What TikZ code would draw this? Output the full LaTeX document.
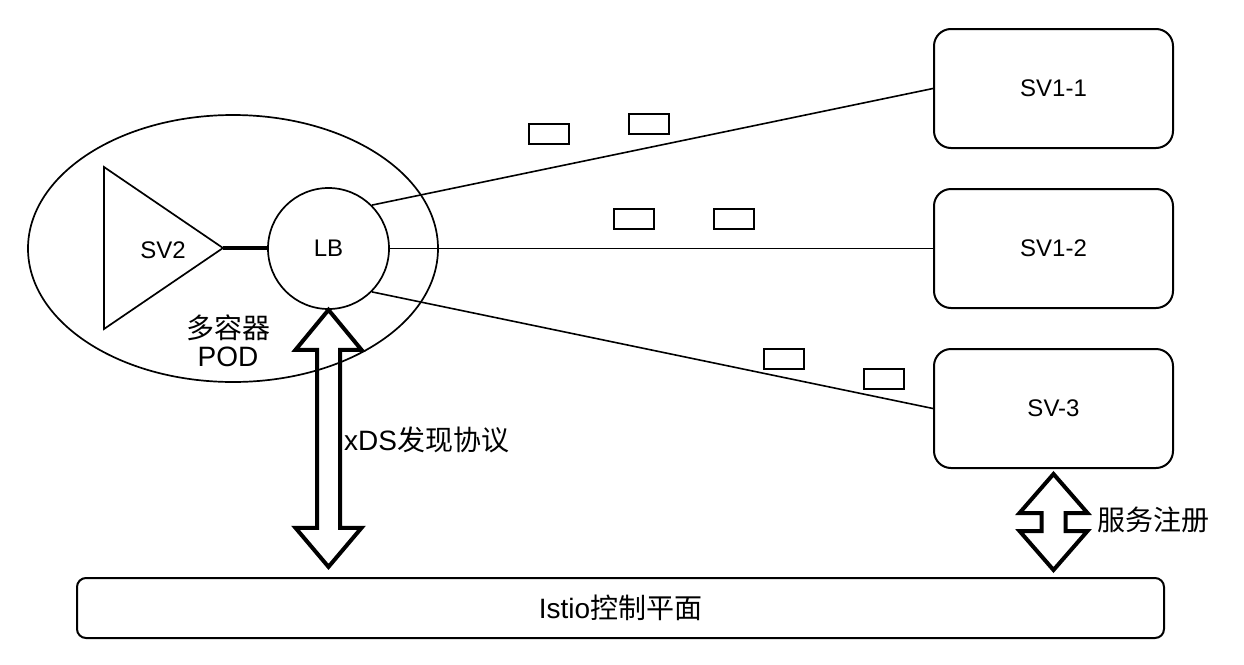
\documentclass[tikz,border=0pt]{standalone}
\usepackage{fontspec}
\setmainfont{Liberation Sans}
\newfontfamily\cjk{Noto Sans CJK SC}
\usetikzlibrary{shapes.geometric,calc}
\begin{document}
\begin{tikzpicture}[x=1pt,y=-1pt,
  svbox/.style={draw, line width=2pt, rounded corners=17pt, minimum width=239pt, minimum height=119pt, inner sep=0pt, font=\fontsize{24}{28}\selectfont},
  istiobox/.style={draw, line width=2pt, rounded corners=9pt, minimum width=1087pt, minimum height=60pt, inner sep=0pt, font=\fontsize{28}{32}\selectfont},
  shapeline/.style={draw, line width=1.7pt},
  conn/.style={draw, line width=1.6pt},
  thickconn/.style={draw, line width=3.5pt},
  msgbox/.style={draw, line width=2.4pt, minimum width=40pt, minimum height=20pt, inner sep=0pt},
  bigarrow/.style={draw, line width=4pt, line join=miter},
  lbl/.style={inner sep=0pt, font=\fontsize{28}{28}\selectfont},
  innerlbl/.style={inner sep=0pt, font=\fontsize{24}{28}\selectfont}
]
\useasboundingbox (0,0) rectangle (1244,664);
\fill[white] (0,0) rectangle (1244,664);

% POD ellipse
\node[ellipse, shapeline, minimum width=410pt, minimum height=267pt, inner sep=0pt] (pod) at (233,248.5) {};

% SV2 triangle
\draw[shapeline] (104,167) -- (223,248) -- (104,329) -- cycle;
\coordinate (sv2tip) at (223,248);
\node[innerlbl] (sv2) at (163,250) {SV2};

% LB circle
\node[circle, shapeline, minimum size=121pt, inner sep=0pt, font=\fontsize{24}{28}\selectfont] (lb) at (328.5,248.5) {LB};

\draw[thickconn] (sv2tip) -- (sv2tip -| lb.west);

% Service boxes
\node[svbox] (sv11) at (1053.5,88.5) {SV1-1};
\node[svbox] (sv12) at (1053.5,248.5) {SV1-2};
\node[svbox] (sv3) at (1053.5,408.5) {SV-3};

% Connectors
\draw[conn] (lb.45) -- (sv11.west);
\draw[conn] (lb.0) -- (sv12.west);
\draw[conn] (lb.-45) -- (sv3.west);

% Messages
\node[msgbox] (m1) at (549,134) {};
\node[msgbox] (m2) at (649,124) {};
\node[msgbox] (m3) at (634,219) {};
\node[msgbox] (m4) at (734,219) {};
\node[msgbox] (m5) at (784,359) {};
\node[msgbox] (m6) at (884,379) {};

% Pod label
\node[lbl, align=center] (podlbl) at (228,341) {{\cjk 多容器}\\[0pt]POD};

% Istio control plane
\node[istiobox] (istio) at (620.5,608) {Istio{\cjk 控制平面}};

% xDS double arrow
\draw[bigarrow] (lb.south) -- ++(33,40) -- ++(-21.5,0) -- ++(0,178) -- ++(21.5,0)
  -- ++(-33,39) -- ++(-33,-39) -- ++(21.5,0) -- ++(0,-178) -- ++(-21.5,0) -- cycle;
\node[lbl, anchor=west] (xdslbl) at (344,440) {xDS{\cjk 发现协议}};

% Registration double arrow
\draw[bigarrow] ($(sv3.south)+(0,5)$) -- ++(34,39) -- ++(-22,0) -- ++(0,18) -- ++(22,0)
  -- ++(-34,39) -- ++(-34,-39) -- ++(22,0) -- ++(0,-18) -- ++(-22,0) -- cycle;
\node[lbl, anchor=west] (reglbl) at (1097,520) {{\cjk 服务注册}};
\end{tikzpicture}
\end{document}
